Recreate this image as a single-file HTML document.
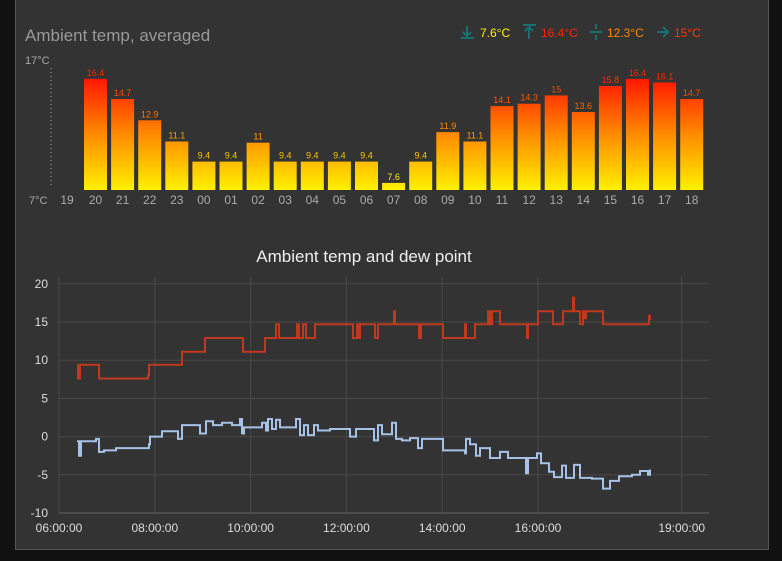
<!DOCTYPE html>
<html><head><meta charset="utf-8"><style>
html,body{margin:0;padding:0;background:#111;width:782px;height:561px;overflow:hidden;font-family:"Liberation Sans",sans-serif}
#p{position:absolute;left:15px;top:-2px;width:752px;height:551px;background:#333;border:1px solid #555;border-top:none}
svg{position:absolute;left:0;top:0}
</style></head><body>
<div id="p"></div>
<svg id="s" width="782" height="561" xmlns="http://www.w3.org/2000/svg">
<defs><linearGradient id="g" gradientUnits="userSpaceOnUse" x1="0" y1="78" x2="0" y2="190">
<stop offset="0" stop-color="#ff1500"/><stop offset="0.5" stop-color="#ff8a00"/><stop offset="1" stop-color="#fff000"/></linearGradient></defs>
<text x="25" y="41" font-size="17" fill="#999">Ambient temp, averaged</text>
<g font-size="12">
<g stroke="#1a7070" stroke-width="2" fill="none">
<line x1="461" y1="38" x2="474" y2="38"/><line x1="467" y1="26" x2="467" y2="36"/><path d="M463 32 L467 36 L471 32"/>
<line x1="523" y1="25" x2="536" y2="25"/><line x1="529" y1="28" x2="529" y2="39"/><path d="M525 31 L529 27 L533 31"/>
<line x1="590" y1="32" x2="602" y2="32"/><line x1="596" y1="24" x2="596" y2="29"/><line x1="596" y1="35" x2="596" y2="40"/>
<line x1="657" y1="32" x2="668" y2="32"/><path d="M663 27 L668 32 L663 37"/>
</g>
<text x="480" y="37" fill="#ffee00">7.6°C</text>
<text x="541" y="37" fill="#ff2200">16.4°C</text>
<text x="607" y="37" fill="#ff8800">12.3°C</text>
<text x="674" y="37" fill="#ff3300">15°C</text>
</g>
<text x="25" y="64" font-size="11" fill="#aaa">17°C</text>
<text x="29" y="204" font-size="11" fill="#aaa">7°C</text>
<line x1="51" y1="68" x2="51" y2="188" stroke="#aaa" stroke-dasharray="1,3"/>
<g fill="#ff4400">
<rect x="84" y="78.9" width="23" height="111.1" fill="#ff3000"/>
<rect x="84" y="78.9" width="23" height="111.1" fill="url(#g)"/>
<rect x="111.1" y="99" width="23" height="91" fill="url(#g)"/>
<rect x="138.2" y="120.3" width="23" height="69.7" fill="url(#g)"/>
<rect x="165.3" y="141.5" width="23" height="48.5" fill="url(#g)"/>
<rect x="192.4" y="161.6" width="23" height="28.4" fill="url(#g)"/>
<rect x="219.5" y="161.6" width="23" height="28.4" fill="url(#g)"/>
<rect x="246.6" y="142.7" width="23" height="47.3" fill="url(#g)"/>
<rect x="273.7" y="161.6" width="23" height="28.4" fill="url(#g)"/>
<rect x="300.8" y="161.6" width="23" height="28.4" fill="url(#g)"/>
<rect x="327.9" y="161.6" width="23" height="28.4" fill="url(#g)"/>
<rect x="355" y="161.6" width="23" height="28.4" fill="url(#g)"/>
<rect x="382.1" y="182.9" width="23" height="7.1" fill="url(#g)"/>
<rect x="409.2" y="161.6" width="23" height="28.4" fill="url(#g)"/>
<rect x="436.3" y="132.1" width="23" height="57.9" fill="url(#g)"/>
<rect x="463.4" y="141.5" width="23" height="48.5" fill="url(#g)"/>
<rect x="490.5" y="106.1" width="23" height="83.9" fill="url(#g)"/>
<rect x="517.6" y="103.7" width="23" height="86.3" fill="url(#g)"/>
<rect x="544.7" y="95.4" width="23" height="94.6" fill="url(#g)"/>
<rect x="571.8" y="112" width="23" height="78" fill="url(#g)"/>
<rect x="598.9" y="86" width="23" height="104" fill="url(#g)"/>
<rect x="626" y="78.9" width="23" height="111.1" fill="url(#g)"/>
<rect x="653.1" y="82.4" width="23" height="107.6" fill="url(#g)"/>
<rect x="680.2" y="99" width="23" height="91" fill="url(#g)"/>
</g>
<g font-size="9" text-anchor="middle">
<text x="95.5" y="75.9" fill="rgb(255,34,0)">16.4</text>
<text x="122.6" y="96" fill="rgb(255,73,0)">14.7</text>
<text x="149.7" y="117.3" fill="rgb(255,115,0)">12.9</text>
<text x="176.8" y="138.5" fill="rgb(255,157,0)">11.1</text>
<text x="203.9" y="158.6" fill="rgb(255,196,0)">9.4</text>
<text x="231" y="158.6" fill="rgb(255,196,0)">9.4</text>
<text x="258.1" y="139.7" fill="rgb(255,159,0)">11</text>
<text x="285.2" y="158.6" fill="rgb(255,196,0)">9.4</text>
<text x="312.3" y="158.6" fill="rgb(255,196,0)">9.4</text>
<text x="339.4" y="158.6" fill="rgb(255,196,0)">9.4</text>
<text x="366.5" y="158.6" fill="rgb(255,196,0)">9.4</text>
<text x="393.6" y="179.9" fill="rgb(255,238,0)">7.6</text>
<text x="420.7" y="158.6" fill="rgb(255,196,0)">9.4</text>
<text x="447.8" y="129.1" fill="rgb(255,138,0)">11.9</text>
<text x="474.9" y="138.5" fill="rgb(255,157,0)">11.1</text>
<text x="502" y="103.1" fill="rgb(255,87,0)">14.1</text>
<text x="529.1" y="100.7" fill="rgb(255,83,0)">14.3</text>
<text x="556.2" y="92.4" fill="rgb(255,66,0)">15</text>
<text x="583.3" y="109" fill="rgb(255,99,0)">13.6</text>
<text x="610.4" y="83" fill="rgb(255,48,0)">15.8</text>
<text x="637.5" y="75.9" fill="rgb(255,34,0)">16.4</text>
<text x="664.6" y="79.4" fill="rgb(255,41,0)">16.1</text>
<text x="691.7" y="96" fill="rgb(255,73,0)">14.7</text>
</g>
<g id="bars"></g>
<text x="364" y="262" font-size="17" fill="#eee" text-anchor="middle">Ambient temp and dew point</text>
<g id="lc"></g>
</svg>
<script>
var NS="http://www.w3.org/2000/svg",s=document.getElementById('s');
function el(p,t,a,tx){var e=document.createElementNS(NS,t);for(var k in a)e.setAttribute(k,a[k]);if(tx!=null)e.textContent=tx;p.appendChild(e);return e;}
var labs=["20","21","22","23","00","01","02","03","04","05","06","07","08","09","10","11","12","13","14","15","16","17","18"];
var B=document.getElementById('bars');
el(B,'text',{x:67,y:204,'font-size':12,fill:'#aaa','text-anchor':'middle'},"19");
for(var i=0;i<labs.length;i++){var x=84+i*27.1;
el(B,'text',{x:x+11.5,y:204,'font-size':12,fill:'#aaa','text-anchor':'middle'},labs[i]);}
var L=document.getElementById('lc');
function Y(v){return 436.6-v*7.64;}
for(var v=-10;v<=20;v+=5){el(L,'line',{x1:59,x2:709,y1:Y(v),y2:Y(v),stroke:v==-10?'#666':'#484848','stroke-width':1});
el(L,'text',{x:48,y:Y(v)+4,'font-size':12,fill:'#ddd','text-anchor':'end'},String(v));}
var ts=[["06:00:00",0],["08:00:00",2],["10:00:00",4],["12:00:00",6],["14:00:00",8],["16:00:00",10],["19:00:00",13]];
ts.forEach(function(t){var x=59+t[1]*47.9;el(L,'line',{x1:x,x2:x,y1:277,y2:513,stroke:'#4a4a4a'});
el(L,'text',{x:x,y:532,'font-size':12,fill:'#ddd','text-anchor':'middle'},t[0]);});
function step(d){var p="M"+d[0][0]+" "+Y(d[0][1]).toFixed(1);for(var i=1;i<d.length;i++){p+=" H"+d[i][0]+" V"+Y(d[i][1]).toFixed(1);}return p;}
var red=[[77,9.4],[78,7.6],[80,9.4],[99,7.6],[148,8],[149,9.4],[182,11.1],[205,12.9],[243,11.1],[265,12.9],[276,14.7],[279,12.9],[297,14.7],[299,12.9],[303,14.7],[306,12.9],[315,14.7],[353,12.9],[357,14.7],[358,12.9],[360,14.7],[375,12.9],[378,14.7],[394,16.4],[395,14.7],[419,12.9],[421,14.7],[443,12.9],[465,14.7],[466,12.9],[475,14.7],[488,16.4],[490,14.7],[492,16.4],[500,14.7],[527,12.9],[528,14.7],[538,16.4],[553,14.7],[563,16.4],[573,18.2],[574,16.4],[580,14.7],[583,16.4],[585,15.5],[586,16.4],[603,14.7],[649,15.8],[650,15.3]];
var blue=[[77,-0.6],[79,-2.5],[81,-0.6],[96,-0.3],[99,-2],[104,-1.8],[116,-1.5],[149,-1],[150,0],[162,0.7],[178,-0.3],[182,1.5],[200,0.4],[206,2.0],[213,1.5],[222,1.8],[232,1.5],[240,2.3],[242,0.4],[244,1.2],[262,1.8],[266,0.8],[268,2.3],[272,1.0],[276,2.2],[280,1.2],[296,2.3],[300,0.2],[304,1.5],[308,0.2],[314,1.5],[318,0.8],[330,1.0],[350,0.0],[356,1.0],[374,-0.5],[378,1.5],[382,0.3],[392,1.8],[396,-0.3],[402,-0.5],[410,-0.2],[418,-1.5],[422,-0.3],[443,-1.8],[465,-2.2],[466,-0.3],[470,-1.0],[476,-2.5],[480,-1.5],[490,-2.8],[500,-2.0],[508,-2.8],[526,-4.8],[528,-2.8],[537,-2.2],[541,-3.5],[549,-4.6],[554,-5.3],[562,-3.8],[566,-5.4],[574,-3.7],[580,-5.4],[592,-5.5],[603,-6.8],[610,-5.8],[619,-5.2],[632,-5.0],[640,-4.5],[648,-5.0],[650,-4.3]];
el(L,'path',{d:step(red),fill:'none',stroke:'#c0391e','stroke-width':2});
el(L,'path',{d:step(blue),fill:'none',stroke:'#a6c2e6','stroke-width':2});
</script>
</body></html>
